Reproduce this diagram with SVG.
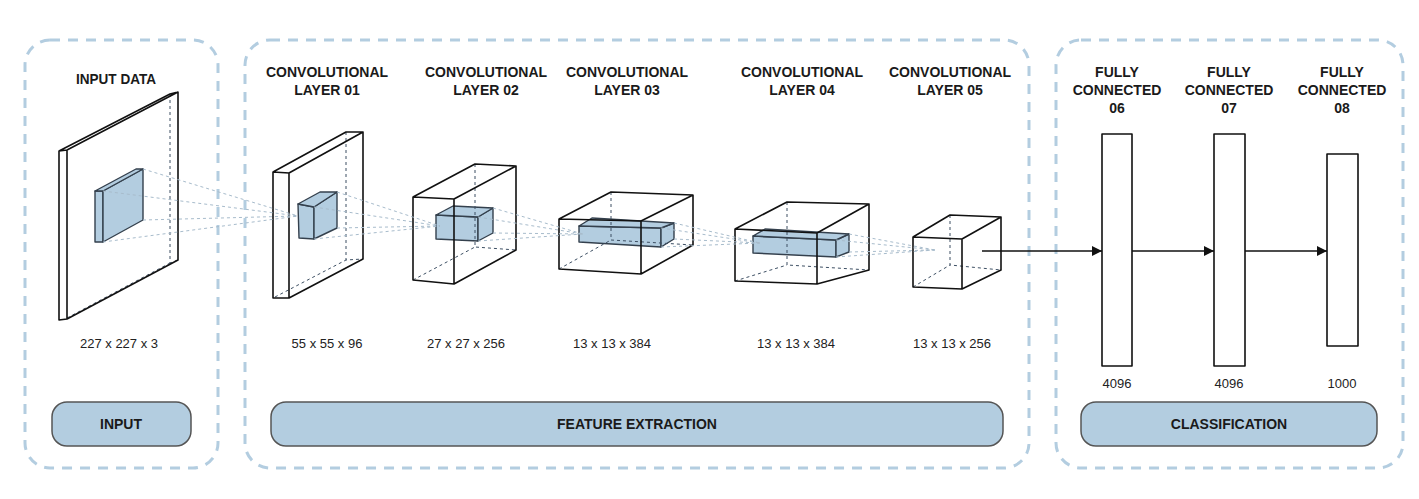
<svg xmlns="http://www.w3.org/2000/svg" width="1419" height="499" viewBox="0 0 1419 499">
<defs>
<style>
.panel{fill:none;stroke:#b3cde0;stroke-width:3;stroke-dasharray:10 8}
.pill{fill:#b3cde0;stroke:#555;stroke-width:1.5}
.face{fill:#fff;stroke:none}
.edge{fill:none;stroke:#111;stroke-width:1.6;stroke-linejoin:round}
.hid{fill:none;stroke:#3d4f63;stroke-width:1;stroke-dasharray:3 3}
.blue{fill:#b3cde0;stroke:#34404d;stroke-width:1.4;stroke-linejoin:round}
.ray{fill:none;stroke:#a8bccc;stroke-width:1;stroke-dasharray:3 3}
.hd{font-family:"Liberation Sans",Arial,sans-serif;font-weight:bold;font-size:14px;fill:#1a1a1a;text-anchor:middle}
.dim{font-family:"Liberation Sans",Arial,sans-serif;font-size:13px;fill:#222;text-anchor:middle}
.conn{fill:none;stroke:#111;stroke-width:1.5}
</style>
<marker id="ah" viewBox="0 0 10 10" refX="10" refY="5" markerWidth="10" markerHeight="10" markerUnits="userSpaceOnUse" orient="auto">
<path d="M0,0 L10,5 L0,10 Z" fill="#111"/>
</marker>
</defs>
<rect width="1419" height="499" fill="#fff"/>

<g id="panel-input">
<rect class="panel" x="25" y="40" width="193" height="428" rx="25"/>
<rect class="pill" x="52" y="402" width="139" height="44" rx="15"/>
<text class="hd" x="121" y="429">INPUT</text>
</g>
<g id="panel-feature">
<rect class="panel" x="245" y="40" width="784" height="428" rx="25"/>
<rect class="pill" x="271" y="402" width="732" height="44" rx="15"/>
<text class="hd" x="637" y="429">FEATURE EXTRACTION</text>
</g>
<g id="panel-classification">
<rect class="panel" x="1056" y="40" width="347" height="428" rx="25"/>
<rect class="pill" x="1081" y="402" width="296" height="44" rx="15"/>
<text class="hd" x="1229" y="429">CLASSIFICATION</text>
</g>

<g id="input-data">
<text class="hd" x="116" y="84" textLength="80" lengthAdjust="spacingAndGlyphs">INPUT DATA</text>
<polygon class="face" points="59,151 67,150 178,92 178,260 67,319 59,320"/>
<path class="hid" d="M170,94 L170,263 L178,260 M67,318 L170,263"/>
<polygon class="blue" points="95,191 103,191 103,242 95,242"/>
<polygon class="blue" points="103,191 143,169 143,220 103,242"/>
<polygon class="blue" points="95,191 136,169 143,169 103,191"/>
<path class="edge" d="M59,151 L67,150 L67,319 L59,320 Z M67,150 L178,92 L178,260 L67,319 M59,151 L170,94 L178,92"/>
<text class="dim" x="119" y="348">227 x 227 x 3</text>
</g>

<g id="conv1">
<text class="hd" x="327" y="77">CONVOLUTIONAL</text>
<text class="hd" x="327" y="95">LAYER 01</text>
<polygon class="face" points="273,172 289,173 363,132 363,259 289,298 273,298"/>
<path class="hid" d="M346,132 L346,260 L363,259 M275,297 L346,260"/>
<polygon class="blue" points="298,204 314,207 314,239 299,238"/>
<polygon class="blue" points="314,207 337,192 337,228 314,239"/>
<polygon class="blue" points="298,204 320,192 337,192 314,207"/>
<path class="edge" d="M273,172 L289,173 L289,298 L273,298 Z M289,173 L363,132 L363,259 L289,298 M273,172 L346,132 L363,132"/>
<text class="dim" x="327" y="348">55 x 55 x 96</text>
</g>

<g id="conv2">
<text class="hd" x="486" y="77">CONVOLUTIONAL</text>
<text class="hd" x="486" y="95">LAYER 02</text>
<polygon class="face" points="413,197 475,164 516,166 516,250 454,284 413,280"/>
<polygon class="blue" points="436,215 478,217 478,241 436,239"/>
<polygon class="blue" points="478,217 493,208 493,233 478,241"/>
<polygon class="blue" points="436,215 453,206 493,208 478,217"/>
<path class="hid" d="M475,164 L475,247 L516,250 M413,280 L475,247"/>
<path class="edge" d="M413,197 L454,199 L454,284 L413,280 Z M454,199 L516,166 L516,250 L454,284 M413,197 L475,164 L516,166"/>
<text class="dim" x="466" y="348">27 x 27 x 256</text>
</g>

<g id="conv3">
<text class="hd" x="627" y="77">CONVOLUTIONAL</text>
<text class="hd" x="627" y="95">LAYER 03</text>
<polygon class="face" points="559,219 611,192 693,195 693,245 641,274 559,269"/>
<polygon class="blue" points="579,226 661,228 661,247 579,242"/>
<polygon class="blue" points="661,228 674,223 674,239 661,247"/>
<polygon class="blue" points="579,226 592,218 674,223 661,228"/>
<path class="hid" d="M611,192 L611,240 L693,245 M559,269 L611,240"/>
<path class="edge" d="M559,219 L641,221 L641,274 L559,269 Z M641,221 L693,195 L693,245 L641,274 M559,219 L611,192 L693,195"/>
<text class="dim" x="612" y="348">13 x 13 x 384</text>
</g>

<g id="conv4">
<text class="hd" x="802" y="77">CONVOLUTIONAL</text>
<text class="hd" x="802" y="95">LAYER 04</text>
<polygon class="face" points="735,229 787,202 869,204 869,270 817,284 735,281"/>
<polygon class="blue" points="753,236 836,240 836,257 753,253"/>
<polygon class="blue" points="836,240 849,234 849,252 836,257"/>
<polygon class="blue" points="753,236 765,229 849,234 836,240"/>
<path class="hid" d="M787,202 L787,265 L869,270 M735,281 L787,265"/>
<path class="edge" d="M735,229 L817,233 L817,284 L735,281 Z M817,233 L869,204 L869,270 L817,284 M735,229 L787,202 L869,204"/>
<text class="dim" x="796" y="348">13 x 13 x 384</text>
</g>

<g id="conv5">
<text class="hd" x="950" y="77">CONVOLUTIONAL</text>
<text class="hd" x="950" y="95">LAYER 05</text>
<polygon class="face" points="913,237 950,215 1001,217 1001,270 962,289 913,287"/>
<path class="hid" d="M950,215 L950,265 L1001,270 M913,287 L950,265"/>
<path class="edge" d="M913,237 L962,239 L962,289 L913,287 Z M962,239 L1001,217 L1001,270 L962,289 M913,237 L950,215 L1001,217"/>
<text class="dim" x="952" y="348">13 x 13 x 256</text>
</g>

<g id="fc6">
<text class="hd" x="1117" y="77">FULLY</text>
<text class="hd" x="1117" y="95">CONNECTED</text>
<text class="hd" x="1117" y="113">06</text>
<rect class="edge" x="1102" y="134" width="30" height="232" fill="#fff"/>
<text class="dim" x="1117" y="388">4096</text>
</g>
<g id="fc7">
<text class="hd" x="1229" y="77">FULLY</text>
<text class="hd" x="1229" y="95">CONNECTED</text>
<text class="hd" x="1229" y="113">07</text>
<rect class="edge" x="1214" y="134" width="31" height="232" fill="#fff"/>
<text class="dim" x="1229" y="388">4096</text>
</g>
<g id="fc8">
<text class="hd" x="1342" y="77">FULLY</text>
<text class="hd" x="1342" y="95">CONNECTED</text>
<text class="hd" x="1342" y="113">08</text>
<rect class="edge" x="1327" y="154" width="31" height="192" fill="#fff"/>
<text class="dim" x="1342" y="388">1000</text>
</g>

<g id="connectors">
<path class="ray" d="M103,191 L298,216 M143,169 L298,216 M143,220 L298,216 M103,242 L298,216"/>
<path class="ray" d="M314,207 L440,226 M337,192 L440,226 M337,228 L440,226 M314,239 L440,226"/>
<path class="ray" d="M478,217 L583,234 M493,208 L583,234 M493,233 L583,234 M478,241 L583,234"/>
<path class="ray" d="M661,228 L760,243 M674,223 L760,243 M674,239 L760,243 M661,247 L760,243"/>
<path class="ray" d="M836,240 L935,250 M849,234 L935,250 M849,252 L935,250 M836,257 L935,250"/>
<line class="conn" x1="982" y1="251" x2="1102" y2="251" marker-end="url(#ah)"/>
<line class="conn" x1="1132" y1="251" x2="1214" y2="251" marker-end="url(#ah)"/>
<line class="conn" x1="1245" y1="251" x2="1327" y2="251" marker-end="url(#ah)"/>
</g>
</svg>
